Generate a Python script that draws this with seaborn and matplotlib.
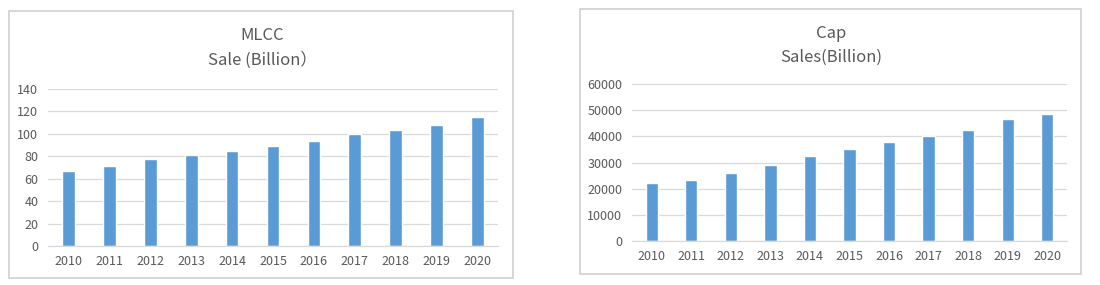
import matplotlib
matplotlib.use("Agg")
import matplotlib.pyplot as plt
import seaborn as sns
import pandas as pd
from matplotlib.patches import Rectangle

years = ["2010", "2011", "2012", "2013", "2014", "2015", "2016", "2017", "2018", "2019", "2020"]
mlcc_sales = [67, 71, 78, 81, 85, 89.5, 94, 100, 103, 108, 115]
cap_sales = [22000, 23300, 25800, 29000, 32300, 35200, 38000, 40300, 42300, 46500, 48500]
mlcc_ticks = [0, 20, 40, 60, 80, 100, 120, 140]
cap_ticks = [0, 10000, 20000, 30000, 40000, 50000, 60000]

sns.set_theme(style="white")
plt.rcParams['font.family'] = ['Noto Sans CJK SC', 'DejaVu Sans']

W, H = 1100, 285
fig = plt.figure(figsize=(W / 100, H / 100), dpi=100)
fig.patch.set_facecolor("white")

BAR = "#5b9bd5"
TXT = "#595959"
GRID = "#d9d9d9"

def px_axes(x0, y_top, x1, y_bot):
    return fig.add_axes([x0 / W, (H - y_bot) / H, (x1 - x0) / W, (y_bot - y_top) / H])

def box(x0, y0, x1, y1):
    fig.patches.append(Rectangle((x0 / W, (H - y1) / H), (x1 - x0) / W, (y1 - y0) / H,
                                 transform=fig.transFigure, fill=False,
                                 edgecolor="#d0d0d0", linewidth=1.2))

def panel(ax, values, ticks, ymax):
    df = pd.DataFrame({"year": years, "value": values})
    sns.barplot(data=df, x="year", y="value", order=years, color=BAR,
                width=0.31, saturation=1, ax=ax)
    ax.set_xlim(-0.5, len(years) - 0.5)
    ax.set_ylim(0, ymax)
    ax.set_yticks(ticks)
    ax.set_yticklabels([str(t) for t in ticks])
    ax.set_xlabel("")
    ax.set_ylabel("")
    ax.yaxis.grid(True, color=GRID, linewidth=0.9)
    ax.set_axisbelow(True)
    for s in ["left", "right", "top"]:
        ax.spines[s].set_visible(False)
    ax.spines["bottom"].set_color(GRID)
    ax.spines["bottom"].set_linewidth(0.9)
    ax.tick_params(axis="y", length=0, pad=7, labelsize=9, labelcolor=TXT)
    ax.tick_params(axis="x", length=0, pad=6.5, labelsize=9, labelcolor=TXT)
    ax.set_facecolor("none")

box(9, 11, 513, 278)
box(580, 9, 1081, 274)

ax1 = px_axes(48, 89, 498, 246)
panel(ax1, mlcc_sales, mlcc_ticks, 140)
ax2 = px_axes(632, 84, 1067, 241)
panel(ax2, cap_sales, cap_ticks, 60000)

def title(xc, y1, y2, t1, t2):
    fig.text(xc / W, (H - y1) / H, t1, ha="center", va="center", fontsize=12, color=TXT)
    fig.text(xc / W, (H - y2) / H, t2, ha="center", va="center", fontsize=12, color=TXT)

title(262, 35, 60, "MLCC", "Sale (Billion）")
title(831, 33, 57, "Cap", "Sales(Billion)")

fig.savefig("out.png", dpi=100, facecolor="white")
